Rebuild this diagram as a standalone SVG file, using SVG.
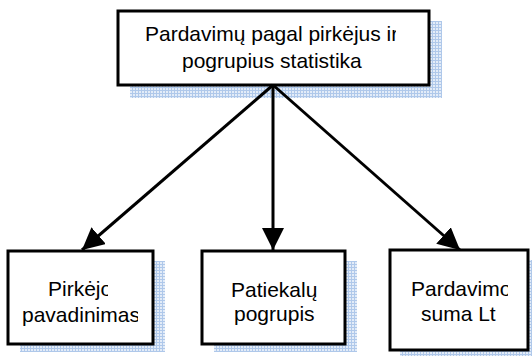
<svg xmlns="http://www.w3.org/2000/svg" width="532" height="358" viewBox="0 0 532 358">
  <style>
    .box { fill: #ffffff; stroke: #000000; stroke-width: 3; }
    .shadow { fill: url(#hatch); }
    .label { font-family: "Liberation Sans", Arial, sans-serif; font-size: 21px; fill: #000000; text-anchor: start; }
    .link { stroke: #000000; stroke-width: 3; fill: none; marker-end: url(#arrow); }
  </style>
  <defs>
    <pattern id="hatch" width="3" height="3" patternUnits="userSpaceOnUse">
      <rect width="3" height="3" fill="#e3ecf8"/>
      <path d="M0 0.5H3M0.5 0V3" stroke="#afc8ea" stroke-width="1"/>
    </pattern>
    <marker id="arrow" markerUnits="userSpaceOnUse" markerWidth="22" markerHeight="22" viewBox="0 0 20 20" refX="20" refY="10" orient="auto">
      <path d="M0 0L20 10L0 20Z" fill="#000000"/>
    </marker>
    <!-- per-line text frames: the last glyph of some lines runs past its frame -->
    <clipPath id="clip-top-1"><rect x="118" y="10" width="278" height="45"/></clipPath>
    <clipPath id="clip-top-2"><rect x="118" y="50" width="246" height="35"/></clipPath>
    <clipPath id="clip-b1-1"><rect x="8" y="251" width="100" height="50"/></clipPath>
    <clipPath id="clip-b1-2"><rect x="8" y="300" width="130" height="44"/></clipPath>
    <clipPath id="clip-b3"><rect x="390" y="250" width="118" height="100"/></clipPath>
  </defs>

  <g id="node-top">
    <rect class="shadow" x="130" y="21" width="312" height="77"/>
    <rect class="box" x="118" y="11" width="311" height="74"/>
    <text class="label" x="145" y="41" clip-path="url(#clip-top-1)">Pardavimų pagal pirkėjus ir</text>
    <text class="label" x="182" y="68" clip-path="url(#clip-top-2)">pogrupius statistika</text>
  </g>

  <g id="node-buyer">
    <rect class="shadow" x="20" y="261" width="145" height="91"/>
    <rect class="box" x="8" y="251" width="145" height="93"/>
    <text class="label" x="48" y="296" clip-path="url(#clip-b1-1)">Pirkėjo</text>
    <text class="label" x="22" y="322" clip-path="url(#clip-b1-2)">pavadinimas</text>
  </g>

  <g id="node-subgroup">
    <rect class="shadow" x="214" y="261" width="143" height="91"/>
    <rect class="box" x="202" y="251" width="143" height="93"/>
    <text class="label" x="231" y="297">Patiekalų</text>
    <text class="label" x="234" y="321">pogrupis</text>
  </g>

  <g id="node-sum">
    <rect class="shadow" x="400" y="260" width="140" height="96"/>
    <rect class="box" x="390" y="250" width="138" height="100"/>
    <g clip-path="url(#clip-b3)">
      <text class="label" x="411" y="296">Pardavimo</text>
      <text class="label" x="421" y="321">suma  Lt</text>
    </g>
  </g>

  <g id="connectors">
    <line class="link" x1="273" y1="85" x2="82" y2="250"/>
    <line class="link" x1="273" y1="85" x2="273" y2="250"/>
    <line class="link" x1="273" y1="85" x2="460" y2="250"/>
  </g>
</svg>
